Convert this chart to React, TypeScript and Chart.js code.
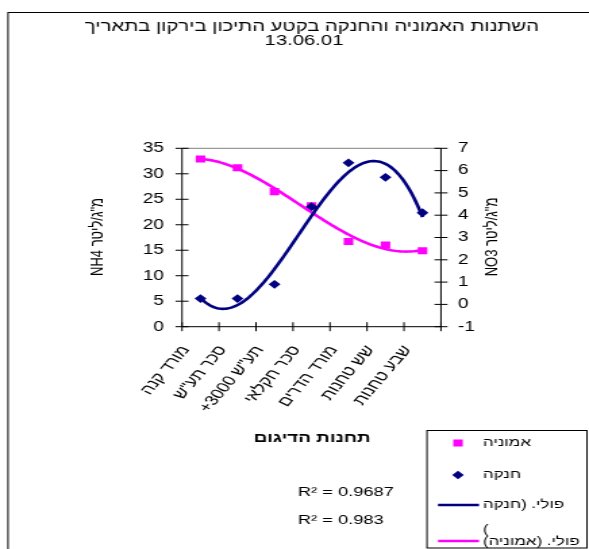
import React, { useEffect, useRef } from 'react';
import { Chart, registerables } from 'chart.js';

Chart.register(...registerables);

// ---------- data ----------
const CATEGORIES = ['מורד קנה', 'סכר תע"ש', '+3000 תע"ש', 'סכר חקלאי', 'מורד הדרים', 'שש טחנות', 'שבע טחנות'];
const AMMONIA = [32.9, 31.2, 26.5, 23.7, 16.7, 16.0, 14.9];
const NITRATE = [0.26, 0.26, 0.9, 4.38, 6.35, 5.7, 4.11];
const TITLE_LINES = ['השתנות האמוניה והחנקה בקטע התיכון בירקון בתאריך', '13.06.01'];
const Y_LEFT_TITLE = 'NH4 מ"ג/ליטר';
const Y_RIGHT_TITLE = 'NO3 מ"ג/ליטר';
const X_TITLE = 'תחנות הדיגום';
const R2_LABELS = ['R² = 0.9687', 'R² = 0.983'];
const LEGEND_LABELS = ['אמוניה', 'חנקה', 'פולי. (חנקה', ')', 'פולי. (אמוניה)'];
const Y_LEFT_TICKS = [0, 5, 10, 15, 20, 25, 30, 35];
const Y_RIGHT_TICKS = [-1, 0, 1, 2, 3, 4, 5, 6, 7];
const TREND_ORDER = 3;

// ---------- layout (the original picture is stretched horizontally) ----------
const DISP_W = 589;
const DISP_H = 549;
const W = 436;
const H = 549;
const SX = DISP_W / W;
const px = (x: number) => x / SX; // displayed x -> internal x
const FONT = "'Liberation Sans', Arial, sans-serif";
const PINK = '#FF00FF';
const NAVY = '#000080';
const PLOT_TOP = 148.3;
const PLOT_BOTTOM = 326.7;

function polyfit(xs: number[], ys: number[], order: number): number[] {
  const n = order + 1;
  const m: number[][] = [];
  for (let r = 0; r < n; r++) {
    const row: number[] = [];
    for (let c = 0; c < n; c++) row.push(xs.reduce((s, x) => s + Math.pow(x, r + c), 0));
    row.push(xs.reduce((s, x, i) => s + ys[i] * Math.pow(x, r), 0));
    m.push(row);
  }
  for (let i = 0; i < n; i++) {
    let p = i;
    for (let k = i + 1; k < n; k++) if (Math.abs(m[k][i]) > Math.abs(m[p][i])) p = k;
    const tmp = m[i]; m[i] = m[p]; m[p] = tmp;
    for (let k = 0; k < n; k++) {
      if (k === i) continue;
      const f = m[k][i] / m[i][i];
      for (let j = i; j <= n; j++) m[k][j] -= f * m[i][j];
    }
  }
  return m.map((row, i) => row[n] / row[i]);
}

function trendPoints(values: number[]) {
  const xs = values.map((_, i) => i + 1);
  const c = polyfit(xs, values, TREND_ORDER);
  const pts: { x: number; y: number }[] = [];
  const x0 = xs[0];
  const x1 = xs[xs.length - 1];
  const steps = 120;
  for (let t = 0; t <= steps; t++) {
    const x = x0 + ((x1 - x0) * t) / steps;
    let y = 0;
    for (let k = 0; k < c.length; k++) y += c[k] * Math.pow(x, k);
    pts.push({ x, y });
  }
  return pts;
}

const decorPlugin = {
  id: 'decor',
  beforeDraw(chart: any) {
    const ctx = chart.ctx;
    ctx.save();
    ctx.fillStyle = '#ffffff';
    ctx.fillRect(0, 0, W, H);
    ctx.restore();
  },
  beforeDatasetsDraw(chart: any) {
    const ctx = chart.ctx;
    const { left, right, top, bottom } = chart.chartArea;
    const ys = chart.scales.y;
    const y1 = chart.scales.y1;
    const xs = chart.scales.x;
    ctx.save();
    ctx.lineWidth = 1;
    ctx.strokeStyle = '#808080';
    ctx.beginPath();
    ctx.moveTo(left, top);
    ctx.lineTo(right, top);
    ctx.stroke();
    ctx.strokeStyle = '#000000';
    ctx.beginPath();
    ctx.moveTo(left, top);
    ctx.lineTo(left, bottom);
    ctx.moveTo(right, top);
    ctx.lineTo(right, bottom);
    ctx.moveTo(left, bottom);
    ctx.lineTo(right, bottom);
    const hx = px(6.5);
    Y_LEFT_TICKS.forEach((v) => {
      const y = ys.getPixelForValue(v);
      ctx.moveTo(left - hx, y);
      ctx.lineTo(left + hx, y);
    });
    Y_RIGHT_TICKS.forEach((v) => {
      const y = y1.getPixelForValue(v);
      ctx.moveTo(right - hx, y);
      ctx.lineTo(right + hx, y);
    });
    for (let i = 0; i <= CATEGORIES.length; i++) {
      const x = xs.getPixelForValue(0.5 + i);
      ctx.moveTo(x, bottom - 4.5);
      ctx.lineTo(x, bottom + 4.5);
    }
    ctx.stroke();
    ctx.restore();
  },
  afterDraw(chart: any) {
    const ctx = chart.ctx;
    ctx.save();
    // outer frame
    ctx.strokeStyle = '#000000';
    ctx.lineWidth = 1;
    ctx.strokeRect(px(8), 12.5, W + 20, H + 20);

    ctx.fillStyle = '#000000';
    // title
    ctx.font = `15px ${FONT}`;
    ctx.textAlign = 'center';
    ctx.textBaseline = 'alphabetic';
    ctx.direction = 'rtl';
    ctx.fillText(TITLE_LINES[0], px(312), 31);
    ctx.fillText(TITLE_LINES[1], px(304), 45);

    // axis titles
    ctx.direction = 'ltr';
    ctx.font = `13px ${FONT}`;
    ctx.textBaseline = 'middle';
    [[px(98), Y_LEFT_TITLE], [px(492), Y_RIGHT_TITLE]].forEach(([x, t]: any) => {
      ctx.save();
      ctx.translate(x, 237);
      ctx.rotate(-Math.PI / 2);
      ctx.fillText(t, 0, 0);
      ctx.restore();
    });

    // x title
    ctx.direction = 'rtl';
    ctx.font = `bold 14px ${FONT}`;
    ctx.textAlign = 'center';
    ctx.fillText(X_TITLE, px(312), 438);

    // R² labels
    ctx.direction = 'ltr';
    ctx.font = `13.5px ${FONT}`;
    ctx.textAlign = 'left';
    ctx.fillText(R2_LABELS[0], px(298), 492);
    ctx.fillText(R2_LABELS[1], px(298), 520);

    // legend
    const bx0 = px(427), bx1 = px(587), by0 = 430.5, by1 = 548;
    ctx.strokeStyle = '#000000';
    ctx.lineWidth = 1;
    ctx.strokeRect(bx0, by0, bx1 - bx0, by1 - by0);
    const mx = px(458);
    ctx.fillStyle = PINK;
    ctx.fillRect(mx - 3.5, 443 - 3.5, 7, 7);
    ctx.fillStyle = NAVY;
    ctx.beginPath();
    ctx.moveTo(mx - 4.3, 475);
    ctx.lineTo(mx, 475 - 4.3);
    ctx.lineTo(mx + 4.3, 475);
    ctx.lineTo(mx, 475 + 4.3);
    ctx.closePath();
    ctx.fill();
    ctx.lineWidth = 2.5;
    ctx.strokeStyle = NAVY;
    ctx.beginPath();
    ctx.moveTo(px(438), 505);
    ctx.lineTo(px(479), 505);
    ctx.stroke();
    ctx.strokeStyle = PINK;
    ctx.beginPath();
    ctx.moveTo(px(438), 541);
    ctx.lineTo(px(479), 541);
    ctx.stroke();
    ctx.fillStyle = '#000000';
    ctx.font = `12.5px ${FONT}`;
    ctx.direction = 'rtl';
    ctx.textAlign = 'left';
    ctx.textBaseline = 'middle';
    const tx = px(483);
    ctx.fillText(LEGEND_LABELS[0], tx, 443);
    ctx.fillText(LEGEND_LABELS[1], tx, 475);
    ctx.fillText(LEGEND_LABELS[2], tx, 505);
    ctx.fillText(LEGEND_LABELS[3], tx, 530);
    ctx.fillText(LEGEND_LABELS[4], tx, 542);
    ctx.restore();
  },
};

export default function App() {
  const ref = useRef<HTMLCanvasElement>(null);
  useEffect(() => {
    if (!ref.current) return;
    Chart.defaults.font.family = FONT;
    Chart.defaults.color = '#000000';
    const tickFont = { family: FONT, size: 14 };
    const chart = new Chart(ref.current, {
      type: 'line',
      data: {
        datasets: [
          {
            type: 'line',
            label: 'trend-nitrate',
            data: trendPoints(NITRATE),
            yAxisID: 'y1',
            borderColor: NAVY,
            borderWidth: 2.6,
            pointRadius: 0,
            tension: 0,
            fill: false,
          },
          {
            type: 'line',
            label: 'trend-ammonia',
            data: trendPoints(AMMONIA),
            yAxisID: 'y',
            borderColor: PINK,
            borderWidth: 2.6,
            pointRadius: 0,
            tension: 0,
            fill: false,
          },
          {
            type: 'scatter',
            label: 'nitrate',
            data: NITRATE.map((v, i) => ({ x: i + 1, y: v })),
            yAxisID: 'y1',
            pointStyle: 'rectRot',
            pointRadius: 4.4,
            backgroundColor: NAVY,
            borderColor: NAVY,
            borderWidth: 0,
          },
          {
            type: 'scatter',
            label: 'ammonia',
            data: AMMONIA.map((v, i) => ({ x: i + 1, y: v })),
            yAxisID: 'y',
            pointStyle: 'rect',
            pointRadius: 5,
            backgroundColor: PINK,
            borderColor: PINK,
            borderWidth: 0,
          },
        ] as any,
      },
      options: {
        responsive: false,
        devicePixelRatio: 1,
        animation: false,
        events: [],
        layout: { padding: { top: PLOT_TOP, left: 0, right: 0, bottom: 0 } },
        plugins: { legend: { display: false }, title: { display: false }, tooltip: { enabled: false } },
        scales: {
          x: {
            type: 'linear',
            min: 0.5,
            max: CATEGORIES.length + 0.5,
            grid: { display: false, drawTicks: false },
            border: { display: false },
            afterBuildTicks: (s: any) => {
              s.ticks = CATEGORIES.map((_, i) => ({ value: i + 1 }));
            },
            afterFit: (s: any) => {
              s.height = H - PLOT_BOTTOM;
            },
            ticks: {
              autoSkip: false,
              minRotation: 57,
              maxRotation: 57,
              padding: 16,
              labelOffset: -11,
              font: tickFont,
              color: '#000000',
              callback: (v: any) => CATEGORIES[Math.round(Number(v)) - 1] ?? '',
            },
          },
          y: {
            type: 'linear',
            position: 'left',
            min: Y_LEFT_TICKS[0],
            max: Y_LEFT_TICKS[Y_LEFT_TICKS.length - 1],
            grid: { display: false, drawTicks: false },
            border: { display: false },
            afterFit: (s: any) => {
              s.width = px(182);
            },
            ticks: { stepSize: 5, padding: px(18), font: tickFont, color: '#000000' },
          },
          y1: {
            type: 'linear',
            position: 'right',
            min: Y_RIGHT_TICKS[0],
            max: Y_RIGHT_TICKS[Y_RIGHT_TICKS.length - 1],
            grid: { display: false, drawTicks: false },
            border: { display: false },
            afterFit: (s: any) => {
              s.width = W - px(441);
            },
            ticks: { stepSize: 1, padding: px(17), font: tickFont, color: '#000000' },
          },
        },
      } as any,
      plugins: [decorPlugin],
    });
    return () => chart.destroy();
  }, []);
  return (
    <canvas
      ref={ref}
      width={W}
      height={H}
      style={{ position: 'fixed', left: 0, top: 0, width: `${DISP_W}px`, height: `${DISP_H}px`, display: 'block' }}
    />
  );
}
